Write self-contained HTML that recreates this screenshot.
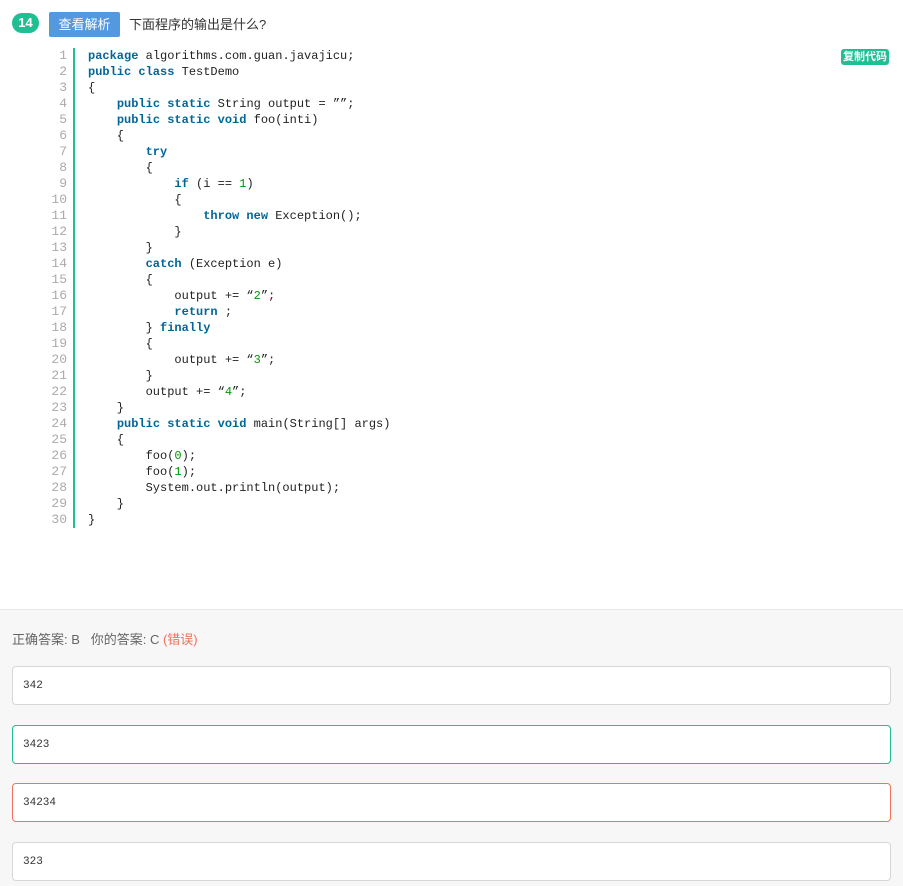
<!DOCTYPE html>
<html><head><meta charset="utf-8"><style>
body{margin:0;width:903px;height:885px;background:#fff;position:relative;font-family:"Liberation Sans","Noto Sans CJK SC",sans-serif;overflow:hidden}
.badge{position:absolute;left:12px;top:13px;width:27px;height:20px;border-radius:10px;background:#1fbf94;color:#fff;font-size:13px;font-weight:bold;text-align:center;line-height:20px}
.btn{position:absolute;left:49px;top:12px;width:71px;height:25px;background:#5498e0;border-radius:2px;color:#fff;font-size:13px;text-align:center;line-height:25px}
.q{position:absolute;left:129px;top:14px;font-size:13px;color:#333}
.copy{position:absolute;left:841px;top:49px;width:48px;height:16px;background:#1fbf94;border-radius:3px;color:#fff;font-size:11px;font-weight:bold;text-align:center;line-height:16px}
.nums{position:absolute;left:40px;top:48px;width:27px;text-align:right;font:13px/16px "Liberation Mono",monospace;color:#aaa;white-space:pre}
.bar{position:absolute;left:73px;top:48px;width:2px;height:480px;background:#1fbf94}
.code{position:absolute;left:88px;top:48px;font:12px/16px "Liberation Mono",monospace;color:#222;white-space:pre}
.k{color:#006699;font-weight:bold}.n{color:#009900}
.bottom{position:absolute;left:0;top:609px;width:903px;height:276px;background:#f7f7f7;border-top:1px solid #e8e8e8}
.ans{position:absolute;left:12px;top:629px;font-size:13px;color:#666}
.opt{position:absolute;left:12px;width:879px;height:39px;background:#fff;border:1px solid #d6d6d6;border-radius:4px;font:11px/39px "Liberation Mono",monospace;color:#333;box-sizing:border-box;padding-left:10px}
</style></head><body>
<div class="badge">14</div>
<div class="btn">查看解析</div>
<div class="q">下面程序的输出是什么?</div>
<div class="copy">复制代码</div>
<div class="nums">1
2
3
4
5
6
7
8
9
10
11
12
13
14
15
16
17
18
19
20
21
22
23
24
25
26
27
28
29
30</div>
<div class="bar"></div>
<div class="code"><span class="k">package</span> algorithms.com.guan.javajicu;
<span class="k">public class</span> TestDemo
{
    <span class="k">public static</span> String output = ””;
    <span class="k">public static void</span> foo(inti)
    {
        <span class="k">try</span>
        {
            <span class="k">if</span> (i == <span class="n">1</span>)
            {
                <span class="k">throw new</span> Exception();
            }
        }
        <span class="k">catch</span> (Exception e)
        {
            output += “<span class="n">2</span>”;
            <span class="k">return</span> ;
        } <span class="k">finally</span>
        {
            output += “<span class="n">3</span>”;
        }
        output += “<span class="n">4</span>”;
    }
    <span class="k">public static void</span> main(String[] args)
    {
        foo(<span class="n">0</span>);
        foo(<span class="n">1</span>);
        System.out.println(output);
    }
}</div>
<div class="bottom"></div>
<div class="ans">正确答案: B &nbsp; 你的答案: C <span style="color:#f0715f">(错误)</span></div>
<div class="opt" style="top:666px">342</div>
<div class="opt" style="top:725px;border-color:#1fbf94">3423</div>
<div class="opt" style="top:783px;border-color:#f0715f">34234</div>
<div class="opt" style="top:842px">323</div>
</body></html>
